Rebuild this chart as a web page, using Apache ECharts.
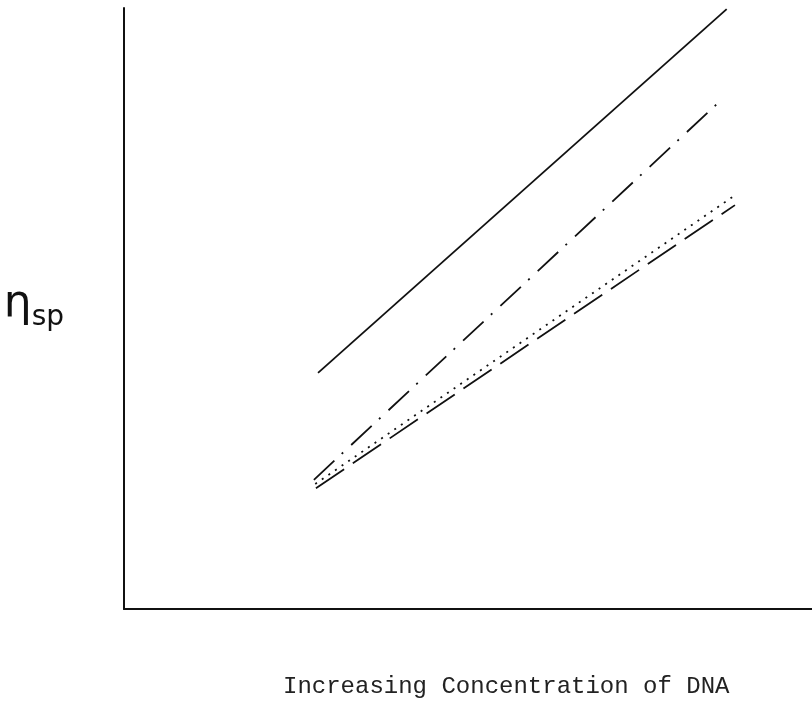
<!DOCTYPE html>
<html>
<head>
<meta charset="utf-8">
<script src="https://cdn.jsdelivr.net/npm/echarts@6/dist/echarts.min.js"></script>
<style>
  html, body { margin: 0; padding: 0; background: #fff; }
  #chart { width: 812px; height: 701px; }
</style>
</head>
<body>
<div id="chart"></div>
<script>
// Specific viscosity vs. DNA concentration: four straight-line fits (relative units 0-100).
const seriesNames = ['solid', 'dashDot', 'dotted', 'dashed'];
const solidValues   = [39.3, 99.8];
const dashDotValues = [21.5, 85.0];
const dottedValues  = [20.8, 68.6];
const dashedValues  = [20.1, 67.2];
const solidX   = [28.2, 87.6];
const dashDotX = [27.6, 87.1];
const dottedX  = [27.8, 88.5];
const dashedX  = [27.9, 88.8];
const xTitle = 'Increasing Concentration of DNA';

const values = { solid: solidValues, dashDot: dashDotValues, dotted: dottedValues, dashed: dashedValues };
const xs = { solid: solidX, dashDot: dashDotX, dotted: dottedX, dashed: dashedX };
const dashPatterns = {
  solid: 'solid',
  dashDot: [28, 10, 2, 11],
  dotted: [2, 6],
  dashed: [34, 10.5]
};

function pairs(name) {
  return values[name].map((v, i) => [xs[name][i], v]);
}

const chart = echarts.init(document.getElementById('chart'), null, { renderer: 'canvas' });
chart.setOption({
  backgroundColor: '#ffffff',
  animation: false,
  title: {
    text: xTitle,
    left: 278,
    top: 670,
    textStyle: {
      fontFamily: 'Liberation Mono',
      fontWeight: 'normal',
      fontSize: 24,
      color: '#222'
    }
  },
  grid: { left: 124, right: 0, top: 8, bottom: 92 },
  xAxis: {
    type: 'value',
    min: 0, max: 100,
    axisLine: { show: true, lineStyle: { color: '#111', width: 2 } },
    axisTick: { show: false },
    axisLabel: { show: false },
    splitLine: { show: false }
  },
  yAxis: {
    type: 'value',
    min: 0, max: 100,
    name: '{eta|η}{sub|sp}',
    nameLocation: 'middle',
    nameRotate: 0,
    nameGap: 60,
    nameTextStyle: {
      rich: {
        eta: { fontFamily: 'DejaVu Sans', fontSize: 44, color: '#111', padding: [0, 0, 8, 0] },
        sub: { fontFamily: 'DejaVu Sans', fontSize: 28, color: '#111', padding: [18, 0, 0, 0] }
      }
    },
    axisLine: { show: true, lineStyle: { color: '#111', width: 2 } },
    axisTick: { show: false },
    axisLabel: { show: false },
    splitLine: { show: false }
  },
  series: seriesNames.map(name => ({
    type: 'line',
    name: name,
    data: pairs(name),
    showSymbol: false,
    symbol: 'none',
    lineStyle: { color: '#111', width: 1.8, type: dashPatterns[name] }
  }))
});
</script>
</body>
</html>
